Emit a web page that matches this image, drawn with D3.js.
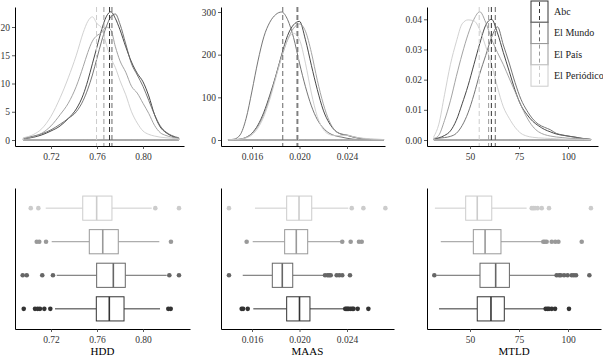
<!DOCTYPE html>
<html><head><meta charset="utf-8">
<script src="https://cdn.jsdelivr.net/npm/d3@7"></script>
<style>body{margin:0;background:#fff}svg{display:block}</style>
</head><body><svg id="c" width="603" height="357"></svg>
<script>
// ---------- data ----------
const groups = ["Abc", "El Mundo", "El País", "El Periódico"];

// HDD densities
const hddX = [0.696,0.705,0.712,0.720,0.728,0.735,0.742,0.748,0.752,0.756,0.760,0.764,0.768,0.772,0.776,0.780,0.785,0.790,0.795,0.800,0.805,0.810,0.815,0.820,0.825,0.831];
const hddAbc = [0.2,0.5,0.9,1.6,2.5,3.8,5.5,8.0,10.5,13.5,16.5,19.5,21.8,22.7,21.5,19.5,16.5,13.8,11.8,10.3,7.8,4.5,2.3,1.3,0.7,0.3];
const hddMundo = [0.3,0.7,1.1,1.8,2.8,3.8,5.0,7.0,9.0,11.5,14.5,17.5,20.0,21.8,22.3,20.5,17.0,13.5,11.5,9.5,7.0,4.5,2.5,1.4,0.8,0.4];
const hddPais = [0.2,0.6,1.2,2.5,4.5,6.5,9.5,13.0,15.5,17.5,18.5,19.0,20.0,19.5,16.5,14.0,12.0,9.5,8.3,6.5,4.7,2.6,1.3,0.8,0.5,0.3];
const hddPeriodico = [0.4,1.0,2.0,4.2,7.5,11.0,15.0,19.0,21.0,21.8,20.6,19.8,17.0,14.5,12.8,10.5,8.0,5.0,3.0,1.6,1.0,0.7,0.5,0.4,0.3,0.2];
const hddMean = [0.7709, 0.7730, 0.7660, 0.7596];
const hddBox = [[0.7235,0.7594,0.7707,0.7835,0.8148],[0.7250,0.7597,0.7742,0.7846,0.8206],[0.7206,0.7533,0.7650,0.7785,0.8142],[0.7154,0.7476,0.7597,0.7730,0.8076]];
const hddOut = [[0.6963,0.7061,0.7084,0.7104,0.7142,0.7194,0.8220,0.8241],[0.6954,0.6989,0.7124,0.7217,0.8229,0.8313],[0.7076,0.7098,0.7157,0.8243],[0.7024,0.7090,0.8107,0.8313]];
const hddTicks = [0.72, 0.76, 0.80];
const hddYTicks = [0, 5, 10, 15, 20];

// MAAS
const maasX = [0.0140,0.0145,0.0150,0.0155,0.0160,0.0165,0.0170,0.0175,0.0180,0.0185,0.0190,0.0195,0.0200,0.0205,0.0210,0.0215,0.0220,0.0225,0.0230,0.0235,0.0240,0.0245,0.0250,0.0260,0.0271];
const maasAbc = [0.2,0.5,2,6,16,35,65,105,150,200,245,270,278,235,175,118,70,40,22,14,11,7,4,1,0.3];
const maasMundo = [0.5,2,12,50,115,185,242,276,294,300,282,240,180,125,80,48,28,16,10,7,4,2,1,0.5,0.2];
const maasPais = [0.3,0.8,2,6,15,32,60,100,148,195,235,262,272,255,205,140,85,45,22,14,12,8,5,1.5,0.3];
const maasPeriodico = [0.5,1,2,5,12,28,55,95,145,195,235,250,235,180,110,55,25,13,10,10,11,8,5,3,1];
const maasMean = [0.01985, 0.01859, 0.01977, 0.01990];
const maasBox = [[0.01611,0.01892,0.02000,0.02088,0.02375],[0.01522,0.01771,0.01855,0.01943,0.02200],[0.01606,0.01875,0.01973,0.02069,0.02355],[0.01625,0.01892,0.01996,0.02103,0.02411]];
const maasOut = [[0.01513,0.01525,0.01564,0.02385,0.02395,0.02405,0.02415,0.02431,0.02445,0.02455,0.02490,0.02580],[0.01406,0.02215,0.02237,0.02250,0.02263,0.02313,0.02335,0.02360,0.02425],[0.01555,0.02360,0.02431,0.02501,0.02524],[0.01406,0.02440,0.02538,0.02723]];
const maasTicks = [0.016, 0.020, 0.024];
const maasYTicks = [0, 100, 200, 300];

// MTLD
const mtldX = [31.6,34,37,40,43,46,49,52,55,58,61,64,67,70,73,76,79,82,85,88,91,94,97,100,104,108,111.6];
const mtldAbc = [0.0003,0.0007,0.0015,0.003,0.0065,0.012,0.018,0.025,0.032,0.038,0.040,0.0355,0.029,0.0228,0.0165,0.0115,0.0085,0.0062,0.0047,0.0035,0.0027,0.002,0.0016,0.0013,0.0009,0.0004,0.0002];
const mtldMundo = [0.0004,0.0006,0.0008,0.0012,0.0022,0.0048,0.009,0.015,0.022,0.028,0.034,0.0375,0.0315,0.0255,0.019,0.0135,0.0098,0.007,0.0052,0.0042,0.0034,0.0022,0.0017,0.0013,0.0009,0.0005,0.0002];
const mtldPais = [0.0005,0.0015,0.0065,0.013,0.021,0.0285,0.035,0.040,0.0425,0.039,0.0335,0.029,0.025,0.0205,0.016,0.0115,0.0075,0.0045,0.0027,0.0018,0.0013,0.001,0.0008,0.0006,0.0005,0.0004,0.0002];
const mtldPeriodico = [0.0012,0.005,0.015,0.025,0.0325,0.0385,0.0398,0.0395,0.0365,0.031,0.025,0.0175,0.011,0.0072,0.0042,0.0022,0.0013,0.0009,0.0007,0.0006,0.0005,0.0004,0.0003,0.0002,0.0002,0.0002,0.0001];
const mtldMean = [60.9, 62.9, 59.5, 54.7];
const mtldBox = [[34.2,53.7,60.7,67.5,87.8],[33.0,55.1,63.1,70.1,93.4],[35.1,51.7,57.7,65.8,86.6],[32.1,47.8,53.7,61.1,78.9]];
const mtldOut = [[88.6,89.5,90.3,91.7,93.4,100.5],[31.8,94.2,95.5,96.3,98.0,99.8,101.9,103.0,104.1,110.9],[87.4,88.2,89.1,91.7,93.5,95.1,107.0],[81.5,82.3,83.2,84.5,86.6,90.3,111.7]];
const mtldTicks = [50, 75, 100];
const mtldYTicks = [0, 0.01, 0.02, 0.03, 0.04];

// ---------- drawing ----------
const svg = d3.select("#c");
const color = d3.scaleOrdinal().domain(groups).range(["#333333","#666666","#999999","#cccccc"]);
const FONT = "'Liberation Serif','Times New Roman',serif";

function anchored(d0, d1, p0, p1, r0, r1) {
  const s = d3.scaleLinear().domain([d0, d1]).range([p0, p1]);
  return d3.scaleLinear().domain([s.invert(r0), s.invert(r1)]).range([r0, r1]);
}

const panels = [
  {title:"HDD", grid:hddX, dens:[hddAbc,hddMundo,hddPais,hddPeriodico], means:hddMean, box:hddBox, out:hddOut,
   ticks:hddTicks, fmt:d3.format(".2f"), yTicks:hddYTicks, yFmt:d3.format("d"),
   xa:[0.72,0.80,51,143], ya:[0,20,140,27], top:[15,184], bot:[15,190]},
  {title:"MAAS", grid:maasX, dens:[maasAbc,maasMundo,maasPais,maasPeriodico], means:maasMean, box:maasBox, out:maasOut,
   ticks:maasTicks, fmt:d3.format(".3f"), yTicks:maasYTicks, yFmt:d3.format("d"),
   xa:[0.016,0.024,252,347], ya:[0,300,140,12], top:[221,385], bot:[221,394]},
  {title:"MTLD", grid:mtldX, dens:[mtldAbc,mtldMundo,mtldPais,mtldPeriodico], means:mtldMean, box:mtldBox, out:mtldOut,
   ticks:mtldTicks, fmt:d3.format("d"), yTicks:mtldYTicks, yFmt:d3.format(".2f"),
   xa:[50,100,470,568], ya:[0,0.04,140,19.3], top:[427,598], bot:[427,601]}
];

const TOP_Y = [7, 146], BOT_Y = [188, 329];

function styleAxis(g) {
  g.select(".domain").attr("stroke", "#000").attr("stroke-width", 1);
  g.selectAll(".tick line").attr("stroke", "#333").attr("stroke-width", 0.8);
  g.selectAll(".tick text").attr("fill", "#333").style("font-family", FONT).style("font-size", "9.5px");
}

panels.forEach(p => {
  // ---- density panel ----
  const x = anchored(p.xa[0], p.xa[1], p.xa[2], p.xa[3], p.top[0], p.top[1]);
  const y = anchored(p.ya[0], p.ya[1], p.ya[2], p.ya[3], TOP_Y[1], TOP_Y[0]);
  const gt = svg.append("g");
  const area = d3.area()
    .x((d, i) => x(p.grid[i]))
    .y0(y(0))
    .y1(d => y(d))
    .curve(d3.curveMonotoneX);
  groups.forEach((gname, gi) => {
    gt.append("path").attr("d", area(p.dens[gi]))
      .attr("fill", "none").attr("stroke", color(gname))
      .attr("stroke-width", 0.9).attr("stroke-linejoin", "round");
  });
  groups.forEach((gname, gi) => {
    gt.append("line")
      .attr("x1", x(p.means[gi])).attr("x2", x(p.means[gi]))
      .attr("y1", TOP_Y[0]).attr("y2", TOP_Y[1])
      .attr("stroke", color(gname)).attr("stroke-width", 1)
      .attr("stroke-dasharray", "5,3");
  });
  gt.append("g").attr("transform", `translate(0,${TOP_Y[1]})`)
    .call(d3.axisBottom(x).tickValues(p.ticks).tickFormat(p.fmt).tickSize(3).tickPadding(4).tickSizeOuter(0))
    .call(styleAxis);
  gt.append("g").attr("transform", `translate(${p.top[0]},0)`)
    .call(d3.axisLeft(y).tickValues(p.yTicks).tickFormat(p.yFmt).tickSize(3).tickPadding(2).tickSizeOuter(0))
    .call(styleAxis);

  // ---- boxplot panel ----
  const xb = anchored(p.xa[0], p.xa[1], p.xa[2], p.xa[3], p.bot[0], p.bot[1]);
  const yb = d3.scalePoint().domain(groups).range([BOT_Y[1], BOT_Y[0]]).padding(0.6);
  const bh = yb.step() * 0.72;
  const gb = svg.append("g");
  groups.forEach((gname, gi) => {
    const [lo, q1, med, q3, hi] = p.box[gi];
    const cy = yb(gname), c = color(gname);
    gb.append("line").attr("x1", xb(lo)).attr("x2", xb(q1)).attr("y1", cy).attr("y2", cy)
      .attr("stroke", c).attr("stroke-width", 1);
    gb.append("line").attr("x1", xb(q3)).attr("x2", xb(hi)).attr("y1", cy).attr("y2", cy)
      .attr("stroke", c).attr("stroke-width", 1);
    gb.append("rect").attr("x", xb(q1)).attr("y", cy - bh / 2)
      .attr("width", xb(q3) - xb(q1)).attr("height", bh)
      .attr("fill", "#fff").attr("stroke", c).attr("stroke-width", 1);
    gb.append("line").attr("x1", xb(med)).attr("x2", xb(med)).attr("y1", cy - bh / 2).attr("y2", cy + bh / 2)
      .attr("stroke", c).attr("stroke-width", 1.6);
    gb.selectAll(null).data(p.out[gi]).enter().append("circle")
      .attr("cx", d => xb(d)).attr("cy", cy).attr("r", 2.3).attr("fill", c);
  });
  gb.append("g").attr("transform", `translate(0,${BOT_Y[1]})`)
    .call(d3.axisBottom(xb).tickValues(p.ticks).tickFormat(p.fmt).tickSize(3).tickPadding(4).tickSizeOuter(0))
    .call(styleAxis);
  gb.append("g").attr("transform", `translate(${p.bot[0]},0)`)
    .call(d3.axisLeft(yb).tickValues([]).tickSizeOuter(0))
    .call(styleAxis);
  gb.append("text").attr("x", (p.bot[0] + p.bot[1]) / 2).attr("y", 355)
    .attr("text-anchor", "middle").attr("fill", "#000")
    .style("font-family", FONT).style("font-size", "11px").text(p.title);
});

// ---- legend (inside third density panel) ----
const lg = svg.append("g");
const keyW = 17, keyH = 21.3, keyX = 531, keyY = 1;
groups.forEach((gname, gi) => {
  const ky = keyY + gi * keyH, c = color(gname);
  lg.append("rect").attr("x", keyX).attr("y", ky).attr("width", keyW).attr("height", keyH)
    .attr("fill", "#fff").attr("stroke", c).attr("stroke-width", 1);
  lg.append("line").attr("x1", keyX + keyW / 2).attr("x2", keyX + keyW / 2)
    .attr("y1", ky + 1).attr("y2", ky + keyH - 1)
    .attr("stroke", c).attr("stroke-width", 1).attr("stroke-dasharray", "4,3");
  lg.append("text").attr("x", 554).attr("y", ky + keyH / 2).attr("dy", "0.35em")
    .attr("fill", "#222").style("font-family", FONT).style("font-size", "10px").text(gname);
});
</script>
</body></html>
